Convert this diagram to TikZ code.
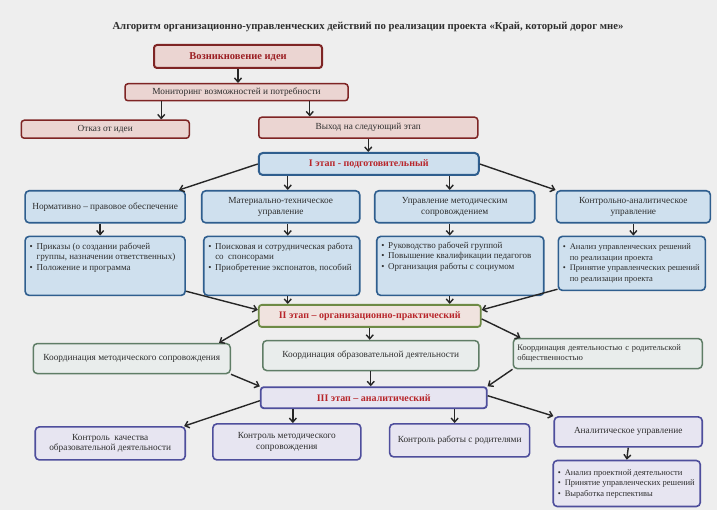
\documentclass[tikz,border=0pt]{standalone}
\usepackage{fontspec}
\setmainfont{Liberation Serif}
\usetikzlibrary{positioning,arrows.meta,calc}
\definecolor{pagegray}{HTML}{EEEEEE}
\definecolor{textgray}{HTML}{2E2E2E}
\definecolor{headred}{HTML}{B8262B}
\definecolor{topline}{HTML}{7E2424}
\definecolor{topfill}{HTML}{EBD5D2}
\definecolor{oneline}{HTML}{2F5E8E}
\definecolor{onefill}{HTML}{CFE0EE}
\definecolor{twoline}{HTML}{6E8A45}
\definecolor{twofill}{HTML}{F0E3DF}
\definecolor{twoboxline}{HTML}{5F7D66}
\definecolor{twoboxfill}{HTML}{E9EDEC}
\definecolor{threeline}{HTML}{4E4E9C}
\definecolor{threefill}{HTML}{E7E5F1}
\newcommand{\bul}{\makebox[7pt][l]{\textbullet}}
\newcommand{\bitem}[1]{\par\noindent\hangindent=7pt\hangafter=1\bul #1}
\newcommand{\blist}[4][t]{\parbox[c][#3][#1]{#2}{\raggedright #4}}

\begin{document}
\begin{tikzpicture}[x=1pt,y=-1pt]
		\tikzstyle{topbox} = [rectangle, rounded corners=3pt, draw=topline, line width=1.5pt, fill=topfill, text=textgray, font=\fontsize{9.3}{10.5}\selectfont, inner sep=2pt, align=center];
		\tikzstyle{tophead} = [topbox, line width=2pt, text=headred!85!black, font=\fontsize{10.5}{12}\selectfont\bfseries];
		\tikzstyle{onebox} = [rectangle, rounded corners=4pt, draw=oneline, line width=1.6pt, fill=onefill, text=textgray, font=\fontsize{9.3}{10.5}\selectfont, inner sep=2pt, align=center];
		\tikzstyle{onehead} = [onebox, line width=2pt, text=headred, font=\fontsize{10}{12}\selectfont\bfseries];
		\tikzstyle{onebul} = [onebox, inner sep=4pt, font=\fontsize{9}{10.5}\selectfont];
		\tikzstyle{twohead} = [rectangle, rounded corners=3pt, draw=twoline, line width=1.8pt, fill=twofill, text=headred, font=\fontsize{10}{12}\selectfont\bfseries, inner sep=2pt];
		\tikzstyle{twobox} = [rectangle, rounded corners=4pt, draw=twoboxline, line width=1.5pt, fill=twoboxfill, text=textgray, font=\fontsize{9.3}{10.5}\selectfont, inner sep=2pt, align=center];
		\tikzstyle{threehead} = [rectangle, rounded corners=3pt, draw=threeline, line width=1.8pt, fill=threefill, text=headred, font=\fontsize{10}{12}\selectfont\bfseries, inner sep=2pt];
		\tikzstyle{threebox} = [rectangle, rounded corners=4pt, draw=threeline, line width=1.6pt, fill=threefill, text=textgray, font=\fontsize{9.3}{10.5}\selectfont, inner sep=2pt, align=center];
		\tikzstyle{threebul} = [threebox, inner sep=4pt, font=\fontsize{8.5}{10.5}\selectfont];
		\tikzstyle{arr} = [line width=1.4pt, draw=black!85, -{Straight Barb[length=4pt, width=7pt]}];
		\fill[pagegray] (0,0) rectangle (717,510);
		\useasboundingbox (0,0) rectangle (717,510);
		\node (title) at (368,27) [text=textgray, font=\fontsize{10.7}{12}\selectfont\bfseries] {Алгоритм организационно-управленческих действий по реализации проекта «Край, который дорог мне»};
		\node (idea) at (238,56.5) [tophead, minimum width=168pt, minimum height=23pt] {Возникновение идеи};
		\node (monit) [topbox, below=14pt of idea, xshift=-1.5pt, minimum width=223pt, minimum height=17pt] {Мониторинг возможностей и потребности};
		\node (refuse) [topbox, below=18pt of monit.south west, xshift=-19pt, minimum width=168pt, minimum height=18pt] {Отказ от идеи};
		\node (next) [topbox, below=15pt of monit.south east, xshift=19.5pt, minimum width=219pt, minimum height=21pt] {Выход на следующий этап};
		\node (st1) [onehead, below=13pt of next, xshift=0.5pt, minimum width=220pt, minimum height=22pt] {I этап - подготовительный};
		\node (n2) [onebox, below=14pt of st1.south west, xshift=23pt, minimum width=158pt, minimum height=32pt] {Материально-техническое\\управление};
		\node (n3) [onebox, below=14pt of st1.south east, xshift=-25pt, minimum width=160pt, minimum height=32pt] {Управление методическим\\сопровождением};
		\node (n1) [onebox, left=15pt of n2, minimum width=160pt, minimum height=32pt] {Нормативно – правовое обеспечение};
		\node (n4) [onebox, right=20pt of n3, minimum width=154pt, minimum height=32pt] {Контрольно-аналитическое\\управление};
		\node (b1) [onebul, below=12pt of n1, minimum width=160pt, minimum height=59pt] {\blist{151pt}{50pt}{\vspace*{2pt}\bitem{Приказы (о создании рабочей\newline группы, назначении ответственных)}\bitem{Положение и программа}}};
		\node (b2) [onebul, below=12pt of n2, xshift=1pt, minimum width=156pt, minimum height=59pt] {\blist{147pt}{50pt}{\vspace*{2pt}\bitem{Поисковая и сотрудническая работа\newline со~ спонсорами}\bitem{Приобретение экспонатов, пособий}}};
		\node (b3) [onebul, below=12pt of n3, xshift=5.5pt, minimum width=167pt, minimum height=59pt] {\blist{158pt}{50pt}{\vspace*{1pt}\bitem{Руководство рабочей группой}\bitem{Повышение квалификации педагогов}\bitem{Организация работы с социумом}}};
		\node (b4) [onebul, below=12pt of n4, xshift=-1.5pt, minimum width=147pt, minimum height=54pt, font=\fontsize{8.5}{10.5}\selectfont] {\blist[c]{138pt}{45pt}{\bitem{Анализ управленческих решений\newline по реализации проекта}\bitem{Принятие управленческих решений\newline по реализации проекта}}};
		\node (st2) [twohead, below=128pt of st1, xshift=1pt, minimum width=222pt, minimum height=22pt] {II этап – организационно-практический};
		\node (c2) [twobox, below=12pt of st2, xshift=1pt, minimum width=216pt, minimum height=30pt] {Координация образовательной деятельности};
		\node (c1) [twobox, left=31pt of c2, yshift=-3pt, minimum width=197pt, minimum height=30pt] {Координация методического сопровождения};
		\node (c3) [twobox, right=33pt of c2, yshift=2pt, minimum height=30pt, text width=181pt, inner xsep=4pt, align=left, font=\fontsize{8.5}{10}\selectfont] {Координация деятельностью с родительской\\общественностью};
		\node (st3) [threehead, below=15pt of c2, xshift=3pt, minimum width=226pt, minimum height=21pt] {III этап – аналитический};
		\node (k2) [threebox, below=14pt of st3.south west, xshift=27pt, minimum width=148pt, minimum height=36pt] {Контроль методического\\сопровождения};
		\node (k3) [threebox, below=14pt of st3.south east, xshift=-28pt, minimum width=140pt, minimum height=33pt] {Контроль работы с родителями};
		\node (k1) [threebox, left=26pt of k2, yshift=-1.5pt, minimum width=150pt, minimum height=33pt] {Контроль~ качества\\образовательной деятельности};
		\node (k4) [threebox, right=23pt of k3, yshift=8.5pt, minimum width=148pt, minimum height=30pt] {Аналитическое управление};
		\node (kb) [threebul, below=12pt of k4, xshift=-1.5pt, minimum width=147pt, minimum height=46pt] {\blist[c]{138pt}{37pt}{\bitem{Анализ проектной деятельности}\bitem{Принятие управленческих решений}\bitem{Выработка перспективы}}};
		\coordinate (m1) at ([xshift=37pt]monit.south west);
		\coordinate (m2) at ([xshift=-39pt]monit.south east);
		\coordinate (col2) at ([xshift=30pt]st1.south west);
		\coordinate (col3) at ([xshift=-30pt]st1.south east);
		\coordinate (k2t) at ([xshift=6pt]k2.north);
		\coordinate (k3t) at ([xshift=-5pt]k3.north);
		\draw[arr] (idea.south) -- (idea.south |- monit.north);
		\draw[arr] (m1) -- (m1 |- refuse.north);
		\draw[arr] (m2) -- (m2 |- next.north);
		\draw[arr] (next.south) -- (next.south |- st1.north);
		\draw[arr] (st1.west) -- ([xshift=-7pt]n1.north east);
		\draw[arr] (col2) -- (col2 |- n2.north);
		\draw[arr] (col3) -- (col3 |- n3.north);
		\draw[arr] (st1.east) -- (n4.north west);
		\draw[arr] ([xshift=-5pt]n1.south) -- ([xshift=-5pt]n1.south |- b1.north);
		\draw[arr] (n2.south -| col2) -- (b2.north -| col2);
		\draw[arr] (n3.south -| col3) -- (b3.north -| col3);
		\draw[arr] (n4.south) -- (n4.south |- b4.north);
		\draw[arr] ([yshift=5pt]b1.south east) -- ([yshift=6pt]st2.west);
		\draw[arr] (b2.south -| col2) -- (st2.north -| col2);
		\draw[arr] (b3.south -| col3) -- (st2.north -| col3);
		\draw[arr] ([yshift=2pt]b4.south west) -- ([yshift=6pt]st2.east);
		\draw[arr] ([yshift=-4pt]st2.west) -- ([xshift=-12pt]c1.north east);
		\draw[arr] (st2.south) -- (st2.south |- c2.north);
		\draw[arr] ([yshift=-3pt]st2.east) -- ([xshift=8pt]c3.north west);
		\draw[arr] (c1.south east) -- (st3.north west);
		\draw[arr] (c2.south) -- (c2.south |- st3.north);
		\draw[arr] (c3.south west) -- (st3.north east);
		\draw[arr] ([yshift=-3pt]st3.west) -- ([xshift=-2pt]k1.north east);
		\draw[arr] (k2t |- st3.south) -- (k2t);
		\draw[arr] (k3t |- st3.south) -- (k3t);
		\draw[arr] ([yshift=2pt]st3.east) -- (k4.north west);
		\draw[arr] (k4.south) -- (kb.north);
	\end{tikzpicture}
\end{document}
